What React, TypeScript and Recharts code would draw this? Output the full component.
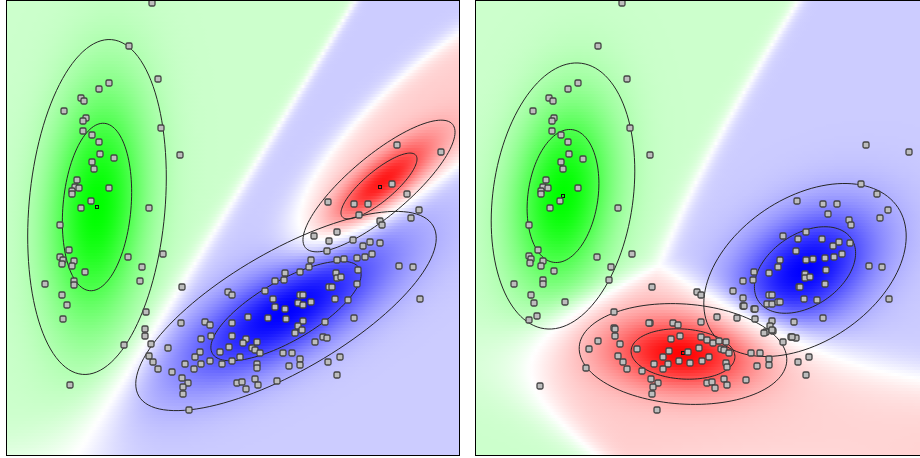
import { Scatter, ScatterChart, XAxis, YAxis } from 'recharts'

// panel geometry in picture units (x, y measured from the top-left of the figure)
const PANEL_W = 452
const PANEL_H = 454
const Y_DOMAIN: [number, number] = [1, 455]

// class order everywhere: green, blue, red
const classColors = [
  [0, 255, 0],
  [0, 0, 255],
  [255, 0, 0],
]

const leftCenters = [
  [97, 207],
  [286, 311],
  [379, 186],
]
const leftSigmas = [
  [84, 34],
  [85, 30],
  [48, 15],
]
const leftAngles = [85, 30, 40]
// orientation used for the shaded decision field (the blue class leans a bit steeper there)
const leftFieldAngles = [85, 36, 40]
const leftWeights = [1, 1, 0.35]

const rightCenters = [
  [563, 196],
  [805, 270],
  [683, 354],
]
const rightSigmas = [
  [67, 35],
  [56, 36],
  [52, 25],
]
const rightAngles = [82, 34, -4]
const rightFieldAngles = [82, 34, -4]
const rightWeights = [1, 1, 2]

const leftMeans = [
  [97, 207],
  [380, 187],
]
const rightMeans = [
  [563, 196],
  [683, 353],
]

const leftPoints = [
  [152, 3], [129, 46], [158, 79], [109, 83], [99, 89], [81, 98], [84, 101], [64, 111], [86, 118], [83, 121],
  [161, 128], [83, 131], [92, 135], [99, 142], [100, 154], [114, 158], [180, 155], [92, 162], [94, 169], [77, 180],
  [75, 187], [72, 191], [72, 194], [79, 188], [109, 188], [91, 201], [81, 208], [149, 208], [60, 225], [69, 250],
  [60, 257], [63, 260], [62, 264], [74, 261], [72, 266], [128, 257], [163, 254], [142, 267], [85, 272], [140, 281],
  [74, 281], [74, 285], [45, 284], [182, 287], [62, 295], [67, 305], [63, 319], [70, 385],
  [228, 292], [232, 295], [146, 312], [181, 323], [205, 322], [210, 325], [232, 323], [248, 317], [268, 318], [286, 319],
  [285, 309], [275, 307], [273, 299], [265, 291], [275, 281], [284, 280], [285, 273], [300, 272], [309, 267], [311, 260],
  [314, 236], [327, 251], [329, 241], [300, 295], [303, 295], [298, 303], [303, 305], [311, 302], [329, 287], [303, 321],
  [298, 326], [302, 330], [295, 333], [325, 322], [323, 337], [327, 338], [315, 342], [145, 329], [145, 336], [151, 344],
  [168, 348], [201, 339], [211, 336], [232, 336], [229, 347], [246, 339], [243, 343], [257, 342], [252, 348], [255, 350],
  [260, 353], [220, 352], [200, 352], [195, 357], [201, 364], [194, 369], [210, 361], [222, 364], [232, 361], [240, 357],
  [257, 364], [257, 368], [283, 353], [292, 353], [300, 359], [300, 365], [289, 366], [149, 356], [153, 362], [158, 369],
  [172, 372], [185, 364], [182, 378], [188, 383], [183, 387], [183, 394], [189, 410], [237, 383], [242, 382], [246, 389],
  [255, 379], [258, 385], [277, 381], [328, 362], [328, 202], [354, 204], [368, 204], [359, 215], [419, 210], [411, 218],
  [380, 221], [382, 225], [337, 232], [353, 240], [363, 246], [370, 242], [380, 243], [357, 258], [365, 257], [372, 254],
  [344, 259], [337, 260], [399, 266], [413, 267], [358, 270], [336, 273], [337, 278], [341, 277], [357, 284], [332, 287],
  [335, 299], [348, 300], [420, 299], [354, 318], [340, 357], [337, 375], [397, 145], [441, 152], [392, 184], [407, 194],
  [124, 345],
]

const rightPoints = [
  [622, 3], [598, 46], [627, 79], [578, 83], [568, 89], [549, 98], [553, 101], [533, 111], [554, 118], [552, 121],
  [630, 128], [552, 131], [561, 135], [568, 142], [650, 155], [569, 154], [583, 159], [561, 162], [563, 169], [546, 180],
  [543, 187], [548, 188], [541, 191], [541, 194], [578, 188], [560, 201], [550, 208], [618, 208], [529, 225], [538, 250],
  [529, 256], [531, 259], [530, 263], [543, 261], [541, 266], [597, 257], [632, 254], [554, 271], [611, 267], [609, 280],
  [543, 280], [543, 284], [514, 284], [652, 287], [531, 295], [534, 303], [565, 302], [537, 316], [529, 320], [614, 312],
  [614, 328], [650, 323], [673, 323], [678, 325],
  [697, 292], [701, 295], [733, 291], [743, 298], [743, 306], [769, 295], [772, 295], [767, 304], [772, 304], [778, 302],
  [754, 309], [799, 287], [649, 323], [701, 322], [717, 317], [737, 318], [755, 319], [772, 321], [770, 326], [766, 332],
  [773, 331], [794, 322], [791, 337], [796, 338], [783, 342], [615, 329], [615, 336], [598, 341], [620, 344], [589, 349],
  [637, 349], [671, 339], [680, 336], [701, 337], [707, 340], [713, 343], [719, 341], [726, 342], [688, 352], [699, 348],
  [709, 357], [702, 361], [721, 349], [724, 350], [729, 353], [669, 351], [679, 361], [690, 363], [663, 357], [654, 364],
  [668, 364], [663, 369], [726, 363], [727, 367], [751, 353], [760, 353], [769, 359], [769, 365], [757, 366], [618, 356],
  [623, 362], [627, 369], [642, 371], [586, 368], [651, 379], [658, 383], [653, 387], [652, 394], [657, 410], [707, 383],
  [712, 382], [715, 388], [724, 379], [727, 385], [746, 380], [540, 386], [806, 375], [798, 362], [809, 357],
  [866, 145], [909, 152], [861, 184], [877, 194], [797, 201], [823, 204], [837, 204], [888, 210], [828, 214], [880, 218],
  [849, 220], [851, 225], [783, 236], [806, 232], [798, 239], [822, 239], [839, 242], [850, 243], [833, 246], [796, 251],
  [842, 254], [825, 258], [834, 257], [806, 260], [813, 259], [780, 260], [778, 267], [869, 266], [882, 267], [769, 273],
  [754, 272], [753, 280], [743, 281], [805, 274], [805, 278], [810, 277], [826, 270], [825, 284], [800, 287], [804, 299],
  [817, 300], [889, 299], [780, 302], [744, 306], [755, 309], [823, 318], [772, 330], [764, 333], [792, 337],
]

interface Component {
  cx: number
  cy: number
  major: number
  minor: number
  angle: number
  weight: number
}

function makeComponents(centers: number[][], sigmas: number[][], angles: number[], weights: number[]): Component[] {
  return centers.map((c, i) => ({
    cx: c[0],
    cy: c[1],
    major: sigmas[i][0],
    minor: sigmas[i][1],
    angle: (angles[i] * Math.PI) / 180,
    weight: weights[i],
  }))
}

function mahalanobis2(g: Component, x: number, y: number) {
  const dx = x - g.cx
  const dy = g.cy - y
  const u = dx * Math.cos(g.angle) + dy * Math.sin(g.angle)
  const v = -dx * Math.sin(g.angle) + dy * Math.cos(g.angle)
  return (u / g.major) ** 2 + (v / g.minor) ** 2
}

function cellColor(comps: Component[], field: Component[], x: number, y: number) {
  const f2 = field.map((g) => mahalanobis2(g, x, y))
  const ll = field.map((g, i) => Math.log(g.weight) - Math.log(g.major * g.minor) - 0.5 * f2[i])
  const top = Math.max(...ll)
  const ex = ll.map((l) => Math.exp(l - top))
  const sum = ex.reduce((a, b) => a + b, 0)
  const post = ex.map((e) => e / sum)
  let k = 0
  post.forEach((p, i) => {
    if (p > post[k]) k = i
  })
  const second = Math.max(...post.filter((_, i) => i !== k))
  const margin = post[k] - second
  const d2 = mahalanobis2(comps[k], x, y)
  const s = margin * (0.2 + 0.8 * Math.exp(-0.5 * d2))
  const rgb = classColors[k].map((c) => Math.round(255 - (255 - c) * s))
  return `rgb(${rgb[0]},${rgb[1]},${rgb[2]})`
}

const ROW = 3
const STEP = 4

function buildRows(comps: Component[], field: Component[], x0: number, id: string) {
  const rows = []
  for (let y = Y_DOMAIN[0]; y < Y_DOMAIN[1]; y += ROW) {
    const stops = []
    for (let x = 0; x <= PANEL_W; x += STEP) {
      stops.push({ off: x / PANEL_W, color: cellColor(comps, field, x0 + x, y + ROW / 2) })
    }
    rows.push({ x: x0, y: y + ROW / 2, stops, id: `${id}-${y}` })
  }
  return rows
}

function ellipsePath(g: Component, k: number) {
  const pts = []
  for (let t = 0; t <= 360; t += 3) {
    const r = (t * Math.PI) / 180
    const a = k * g.major * Math.cos(r)
    const b = k * g.minor * Math.sin(r)
    pts.push({
      x: g.cx + a * Math.cos(g.angle) - b * Math.sin(g.angle),
      y: g.cy - (a * Math.sin(g.angle) + b * Math.cos(g.angle)),
    })
  }
  return pts
}

const toXY = (arr: number[][]) => arr.map(([x, y]) => ({ x, y }))

function RowShape(props: any) {
  const { cx, cy, payload } = props
  return (
    <g>
      <defs>
        <linearGradient id={payload.id} x1="0" x2="1" y1="0" y2="0">
          {payload.stops.map((s: any, i: number) => (
            <stop key={i} offset={s.off} stopColor={s.color} />
          ))}
        </linearGradient>
      </defs>
      <rect x={cx} y={cy - ROW / 2} width={PANEL_W} height={ROW + 0.4} fill={`url(#${payload.id})`} />
    </g>
  )
}

function PointShape(props: any) {
  const { cx, cy } = props
  return (
    <rect x={cx - 3} y={cy - 3} width={6} height={6} rx={1.5} fill="#bdbdbd" stroke="#444" strokeWidth={1.3} />
  )
}

function MeanShape(props: any) {
  const { cx, cy } = props
  return <rect x={cx - 1.5} y={cy - 1.5} width={3} height={3} fill="none" stroke="#111" strokeWidth={1} />
}

const NoShape = () => <g />

interface PanelProps {
  x0: number
  left: number
  comps: Component[]
  field: Component[]
  points: number[][]
  means: number[][]
  id: string
}

function Panel({ x0, left, comps, field, points, means, id }: PanelProps) {
  const rows = buildRows(comps, field, x0, id)
  return (
    <div
      style={{
        position: 'absolute',
        left,
        top: 0,
        width: PANEL_W,
        height: PANEL_H,
        border: '1px solid #000',
        overflow: 'hidden',
      }}
    >
      <ScatterChart width={PANEL_W} height={PANEL_H} margin={{ top: 0, right: 0, bottom: 0, left: 0 }}>
        <XAxis type="number" dataKey="x" domain={[x0, x0 + PANEL_W]} hide allowDataOverflow />
        <YAxis type="number" dataKey="y" domain={Y_DOMAIN} reversed hide allowDataOverflow />
        <Scatter data={rows} shape={RowShape} isAnimationActive={false} />
        {comps.flatMap((g, i) =>
          [1, 2].map((k) => (
            <Scatter
              key={`${i}-${k}`}
              data={ellipsePath(g, k)}
              shape={NoShape}
              line={{ stroke: '#262626', strokeWidth: 1 }}
              lineType="joint"
              isAnimationActive={false}
            />
          )),
        )}
        <Scatter data={toXY(means)} shape={MeanShape} isAnimationActive={false} />
        <Scatter data={toXY(points)} shape={PointShape} isAnimationActive={false} />
      </ScatterChart>
    </div>
  )
}

export default function App() {
  return (
    <div
      style={{
        position: 'absolute',
        left: 0,
        top: 0,
        width: 920,
        height: 458,
        overflow: 'hidden',
        background: '#fff',
      }}
    >
      <Panel
        x0={7}
        left={6}
        id="l"
        comps={makeComponents(leftCenters, leftSigmas, leftAngles, leftWeights)}
        field={makeComponents(leftCenters, leftSigmas, leftFieldAngles, leftWeights)}
        points={leftPoints}
        means={leftMeans}
      />
      <Panel
        x0={476}
        left={475}
        id="r"
        comps={makeComponents(rightCenters, rightSigmas, rightAngles, rightWeights)}
        field={makeComponents(rightCenters, rightSigmas, rightFieldAngles, rightWeights)}
        points={rightPoints}
        means={rightMeans}
      />
    </div>
  )
}
